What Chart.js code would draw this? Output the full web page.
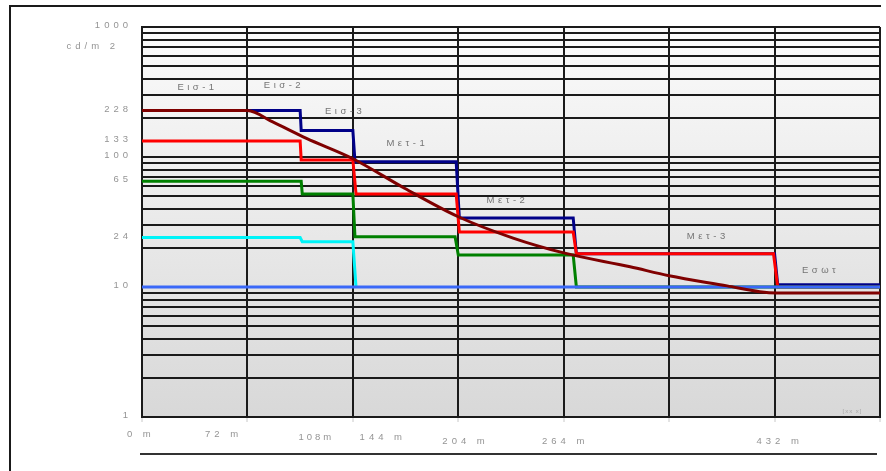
<!DOCTYPE html>
<html>
<head>
<meta charset="utf-8">
<script src="https://cdn.jsdelivr.net/npm/chart.js@4.4.0/dist/chart.umd.min.js"></script>
<style>
  html, body { margin: 0; padding: 0; background: #fff; }
  #wrap { width: 886px; height: 471px; position: relative; }
</style>
</head>
<body>
<div id="wrap"><canvas id="c" width="886" height="471"></canvas></div>
<script>
// Tunnel sections (x runs in section units, one grid column per unit)
const xGrid = [0, 1, 2, 3, 4, 5, 6, 7];

// Distance labels under the axis: text, position in section units, row
const xLabelText = ['0 m', '72 m', '108m', '144 m', '204 m', '264 m', '432 m'];
const xLabelAt   = [-0.03, 0.755, 1.64, 2.265, 3.05, 3.995, 6.03];
const xLabelRow  = [0, 0, 1, 1, 2, 2, 2];

// Luminance axis (cd/m2): gridlines and labelled levels
const yGrid = [1,2,3,4,5,6,7,8,9,10,20,30,40,50,60,70,80,90,100,200,300,400,500,600,700,800,900,1000];
const yLabelValues = [1000, 228, 133, 100, 65, 24, 10, 1];

// Zone names with their anchor (section units, cd/m2)
const zoneNames  = ['Εισ-1', 'Εισ-2', 'Εισ-3', 'Μετ-1', 'Μετ-2', 'Μετ-3', 'Εσωτ'];
const zoneLabelX = [0.51, 1.33, 1.91, 2.50, 3.45, 5.35, 6.42];
const zoneLabelY = [344, 357, 225, 127, 46, 24.4, 13.5];

// Required luminance curve
const reqX = [0, 1.0, 1.24, 1.56, 2.0, 2.49, 3.0, 3.52, 4.0, 4.63, 5.0, 5.55, 5.86, 6.02, 7.0];
const reqY = [228, 228, 186, 139, 97, 57.5, 34.7, 23.8, 18.3, 14.3, 12.2, 10.2, 9.2, 9.0, 9.0];

// Installed lighting levels per stage (step profiles)
const navyX = [0, 1.5, 1.51, 2.0, 2.02, 2.98, 3.01, 4.09, 4.12, 6.0, 6.03, 7];
const navyY = [228, 228, 160, 160, 92, 92, 34, 34, 18, 18, 10.4, 10.4];

const redX = [0, 1.5, 1.51, 2.0, 2.03, 2.98, 3.01, 4.09, 4.12, 5.99, 6.03, 7];
const redY = [133, 133, 95, 95, 52, 52, 26.5, 26.5, 18, 18, 10, 10];

const greenX = [0, 1.51, 1.52, 2.0, 2.02, 2.97, 3.0, 4.09, 4.12, 7];
const greenY = [65, 65, 52, 52, 24.3, 24.3, 17.6, 17.6, 10, 10];

const cyanX = [0, 1.5, 1.52, 2.0, 2.03];
const cyanY = [24, 24, 22.3, 22.3, 10];

const blueX = [0, 7];
const blueY = [10, 10];

const pts = (xs, ys) => xs.map((x, i) => ({ x: x, y: ys[i] }));

function spacedText(ctx, text, x, y, align, spacing) {
  if ('letterSpacing' in ctx) {
    ctx.letterSpacing = spacing + 'px';
    const w = ctx.measureText(text).width - spacing;
    let sx = x;
    if (align === 'right') sx = x - w;
    else if (align === 'center') sx = x - w / 2;
    ctx.textAlign = 'left';
    ctx.fillText(text, sx, y);
    ctx.letterSpacing = '0px';
  } else {
    let w = 0;
    for (const ch of text) w += ctx.measureText(ch).width + spacing;
    w -= spacing;
    let sx = x;
    if (align === 'right') sx = x - w;
    else if (align === 'center') sx = x - w / 2;
    ctx.textAlign = 'left';
    for (const ch of text) { ctx.fillText(ch, sx, y); sx += ctx.measureText(ch).width + spacing; }
  }
}

const backdrop = {
  id: 'backdrop',
  beforeDraw(chart) {
    const { ctx, chartArea: a } = chart;
    ctx.save();
    ctx.fillStyle = '#ffffff';
    ctx.fillRect(0, 0, chart.width, chart.height);
    const g = ctx.createLinearGradient(0, a.top, 0, a.bottom);
    g.addColorStop(0, '#fbfbfb');
    g.addColorStop(1, '#d8d8d8');
    ctx.fillStyle = g;
    ctx.fillRect(a.left, a.top, a.right - a.left, a.bottom - a.top);
    ctx.restore();
  }
};

const labels = {
  id: 'labels',
  afterDraw(chart) {
    const { ctx, chartArea: a } = chart;
    const xs = chart.scales.x, ys = chart.scales.y;
    ctx.save();
    ctx.textBaseline = 'middle';

    // luminance labels
    ctx.font = '9.5px "Liberation Sans", Arial, sans-serif';
    ctx.fillStyle = '#949494';
    yLabelValues.forEach(v => {
      spacedText(ctx, String(v), 128, ys.getPixelForValue(v) - 1.5, 'right', 4);
    });
    spacedText(ctx, 'cd/m 2', 115, a.top + 19, 'right', 4);

    // distance labels
    const rowOffset = [17, 20, 24];
    xLabelText.forEach((t, i) => {
      spacedText(ctx, t, xs.getPixelForValue(xLabelAt[i]), a.bottom + rowOffset[xLabelRow[i]], 'center', i === 2 ? 3 : 4);
    });

    // zone names
    ctx.fillStyle = '#747474';
    zoneNames.forEach((t, i) => {
      spacedText(ctx, t, xs.getPixelForValue(zoneLabelX[i]), ys.getPixelForValue(zoneLabelY[i]), 'center', 3.5);
    });

    // small unit tag in the corner of the plot
    ctx.font = '6px "Liberation Sans", Arial, sans-serif';
    ctx.fillStyle = '#a8a8a8';
    spacedText(ctx, '[xx x]', a.right - 28, a.bottom - 6, 'center', 1);

    // frame and baseline
    ctx.strokeStyle = '#1a1a1a';
    ctx.lineWidth = 2;
    ctx.beginPath();
    ctx.moveTo(10, chart.height);
    ctx.lineTo(10, 6);
    ctx.lineTo(881, 6);
    ctx.stroke();
    ctx.strokeStyle = '#333333';
    ctx.lineWidth = 2;
    ctx.beginPath();
    ctx.moveTo(140, 454);
    ctx.lineTo(877, 454);
    ctx.stroke();
    ctx.restore();
  }
};

const lineStyle = (color) => ({
  borderColor: color,
  backgroundColor: color,
  borderWidth: 3,
  pointRadius: 0,
  fill: false,
  borderJoinStyle: 'miter',
  borderCapStyle: 'butt'
});

new Chart(document.getElementById('c'), {
  type: 'line',
  data: {
    datasets: [
      Object.assign({ label: 'Απαιτούμενη', data: pts(reqX, reqY), cubicInterpolationMode: 'monotone' }, lineStyle('#7f0000')),
      Object.assign({ label: 'Εσωτ', data: pts(blueX, blueY) }, lineStyle('#3a68f8')),
      Object.assign({ label: 'Στάθμη 4', data: pts(cyanX, cyanY) }, lineStyle('#00f4f8')),
      Object.assign({ label: 'Στάθμη 3', data: pts(greenX, greenY) }, lineStyle('#008000')),
      Object.assign({ label: 'Στάθμη 2', data: pts(redX, redY) }, lineStyle('#ff0000')),
      Object.assign({ label: 'Στάθμη 1', data: pts(navyX, navyY) }, lineStyle('#000088'))
    ]
  },
  options: {
    responsive: false,
    animation: false,
    devicePixelRatio: 1,
    layout: { padding: { left: 0, right: 6, top: 27, bottom: 0 } },
    plugins: { legend: { display: false }, tooltip: { enabled: false } },
    elements: { line: { tension: 0 } },
    scales: {
      x: {
        type: 'linear', min: 0, max: 7,
        afterBuildTicks: s => { s.ticks = xGrid.map(v => ({ value: v })); },
        afterFit: s => { s.height = 54; },
        ticks: { display: false },
        grid: { color: '#1a1a1a', lineWidth: 2, drawTicks: true, tickLength: 5, tickColor: '#c8c8c8', tickWidth: 1 },
        border: { display: true, color: '#1a1a1a', width: 2 }
      },
      y: {
        type: 'logarithmic', min: 1, max: 1000,
        afterBuildTicks: s => { s.ticks = yGrid.map(v => ({ value: v })); },
        afterFit: s => { s.width = 142; },
        ticks: { display: false },
        grid: { color: '#1a1a1a', lineWidth: 2, drawTicks: false },
        border: { display: true, color: '#1a1a1a', width: 2 }
      }
    }
  },
  plugins: [backdrop, labels]
});
</script>
</body>
</html>
